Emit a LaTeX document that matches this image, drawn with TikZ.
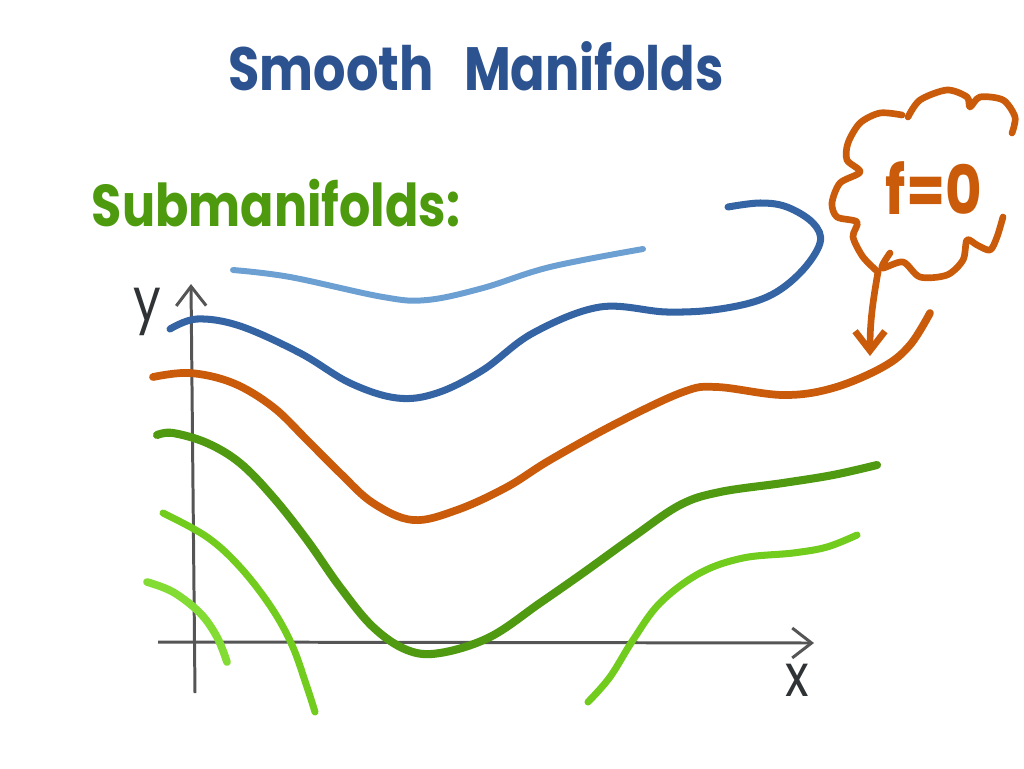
\documentclass[tikz,border=0pt]{standalone}
\usepackage{fontspec}
\setmainfont{Poppins}
\usetikzlibrary{arrows.meta}
\definecolor{titleblue}{HTML}{2C5390}
\definecolor{subgreen}{HTML}{4E9A0E}
\definecolor{paleblue}{HTML}{6C9FD2}
\definecolor{midblue}{HTML}{3464A4}
\definecolor{rust}{HTML}{C95B0A}
\definecolor{darkgreen}{HTML}{4F9A10}
\definecolor{lightgreen}{HTML}{72CC1E}
\definecolor{palegreen}{HTML}{82DC34}
\definecolor{axisgray}{HTML}{555555}
\definecolor{ink}{HTML}{303335}

\begin{document}
\begin{tikzpicture}[x=0.02cm,y=-0.02cm,>={Straight Barb[length=11pt,width=17pt]},
    curve/.style={line width=4pt,line cap=round,line join=round},
    axis/.style={line width=1.7pt,axisgray,->},
    hand/.style={inner sep=0pt,yscale=1.2,transform shape}]
    \useasboundingbox (0,0) rectangle (1024,768);
    \node[hand,titleblue,font=\fontsize{29}{36}\selectfont\bfseries] (title) at (476,66) {Smooth\hspace{0.6em}Manifolds};
    \node[hand,subgreen,font=\fontsize{28}{34}\selectfont\bfseries] (sub) at (276,203) {Submanifolds:};
    %
    \coordinate (yfoot) at (195,693);
    \coordinate (ytip) at (191,284);
    \coordinate (xfoot) at (158,642);
    \coordinate (xtip) at (814,643);
    \draw[axis] (yfoot) -- (ytip);
    \draw[axis] (xfoot) -- (xtip);
    \node[hand,ink,font=\fontsize{28}{32}\selectfont] (ylabel) at (147,312) {y};
    \node[hand,ink,font=\fontsize{28}{32}\selectfont] (xlabel) at (797,680) {x};
    %
    \draw[curve,paleblue,line width=3.4pt] plot[smooth,tension=0.6] coordinates {(233,270) (290,277) (383,297) (427,300) (483,288) (550,267) (643,249)};
    \draw[curve,midblue] plot[smooth,tension=0.6] coordinates {(170,329) (197,319) (240,326) (300,353) (350,383) (397,398) (437,393) (483,370) (533,333) (600,307) (667,312) (720,309) (767,297) (800,273) (820,243) (813,223) (787,207) (760,203) (728,207)};
    \draw[curve,rust,line width=4.4pt] plot[smooth,tension=0.6] coordinates {(153,377) (190,373) (233,383) (273,407) (307,440) (340,473) (373,503) (413,520) (457,510) (507,487) (550,460) (617,423) (683,392) (717,387) (783,395) (833,388) (883,367) (910,345) (930,313)};
    \draw[curve,darkgreen,line width=4.6pt] plot[smooth,tension=0.6] coordinates {(157,435) (173,433) (207,443) (240,463) (273,497) (307,540) (340,587) (373,627) (407,650) (440,653) (490,637) (540,603) (583,573) (633,537) (680,505) (720,492) (783,483) (833,475) (877,465)};
    \draw[curve,lightgreen] plot[smooth,tension=0.6] coordinates {(163,513) (207,537) (240,567) (271,607) (292,645) (307,687) (315,712)};
    \draw[curve,lightgreen] plot[smooth,tension=0.6] coordinates {(588,702) (610,677) (633,640) (660,603) (700,573) (743,558) (793,553) (827,547) (857,535)};
    \draw[curve,palegreen,line width=4.4pt] plot[smooth,tension=0.6] coordinates {(147,582) (173,592) (200,613) (217,637) (227,662)};
    %
    % cloud
    \draw[curve,rust,line width=3.8pt] plot[smooth] coordinates {(902,115) (880,113) (860,123) (848,143) (847,160) (860,172) (840,183) (832,203) (837,217) (857,222) (853,237) (863,257) (878,272)};
    \draw[curve,rust,line width=3.8pt] plot[smooth] coordinates {(890,253) (882,268) (903,262) (920,277) (947,275) (963,260) (967,240) (977,245) (990,250) (997,237) (1003,217)};
    \draw[curve,rust,line width=3.8pt] plot[smooth] coordinates {(908,117) (920,100) (947,90) (967,97) (970,107) (980,97) (1003,100) (1015,117) (1012,133)};
    \node[hand,rust,font=\fontsize{32}{40}\selectfont\bfseries] (feq) at (934,188) {f=0};
    \coordinate (cloudtip) at (878,272);
    \coordinate (fzero) at (870,356);
    \draw[rust,line width=3.8pt,line cap=round,->] (cloudtip) to[out=-100,in=90] (fzero);
\end{tikzpicture}
\end{document}
